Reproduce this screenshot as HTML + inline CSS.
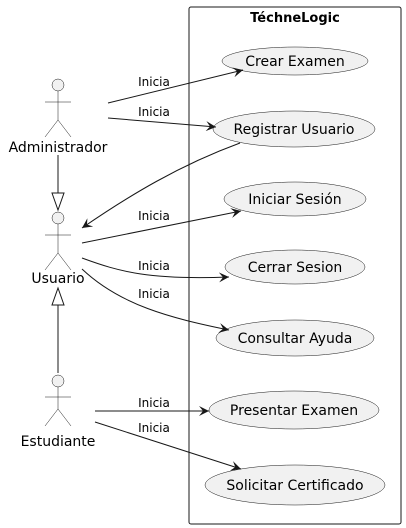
<!DOCTYPE html>
<html><head><style>body{margin:0;background:#fff}svg{display:block}text{font-family:"DejaVu Sans","Liberation Sans",sans-serif}</style></head><body>
<svg width="406" height="528" viewBox="0 0 406 528" xmlns="http://www.w3.org/2000/svg">
<defs><marker id="a" markerWidth="12" markerHeight="10" refX="10" refY="5" orient="auto" markerUnits="userSpaceOnUse"><path d="M0,0 L10,5 L0,10 L4,5 Z" fill="#181818"/></marker></defs>
<rect x="189" y="7" width="212" height="517" rx="2" fill="#fff" stroke="#181818" stroke-width="1"/>
<text x="295" y="22" font-size="13" font-weight="bold" text-anchor="middle">TéchneLogic</text>
<g fill="#f1f1f1" stroke="#181818" stroke-width="0.5">
<ellipse cx="295" cy="61" rx="73" ry="14"/>
<ellipse cx="294" cy="129" rx="81" ry="18"/>
<ellipse cx="295" cy="199" rx="71" ry="17"/>
<ellipse cx="295" cy="267" rx="70" ry="17"/>
<ellipse cx="295" cy="338" rx="79" ry="18"/>
<ellipse cx="294" cy="410" rx="85" ry="19"/>
<ellipse cx="295" cy="485" rx="90" ry="20"/>
</g>
<g font-size="14" text-anchor="middle" fill="#000">
<text x="295" y="66">Crear Examen</text>
<text x="294" y="134">Registrar Usuario</text>
<text x="295" y="204">Iniciar Sesión</text>
<text x="295" y="272">Cerrar Sesion</text>
<text x="295" y="343">Consultar Ayuda</text>
<text x="294" y="415">Presentar Examen</text>
<text x="295" y="490">Solicitar Certificado</text>
</g>
<g fill="#f1f1f1" stroke="#181818" stroke-width="0.5">
<circle cx="58" cy="85" r="6"/><path d="M58,91V120M45,102H71M45,137L58,120L71,137" fill="none"/>
<circle cx="58" cy="218" r="6"/><path d="M58,224V253M45,235H71M45,270L58,253L71,270" fill="none"/>
<circle cx="58" cy="381" r="6"/><path d="M58,387V409M45,397H71M45,426L58,409L71,426" fill="none"/>
</g>
<g font-size="14" text-anchor="middle">
<text x="58" y="152">Administrador</text>
<text x="58" y="283">Usuario</text>
<text x="58" y="446">Estudiante</text>
</g>
<g stroke="#181818" fill="none" stroke-width="1">
<path d="M58,155V193"/><path d="M52,193H64L58,210Z" fill="#fff"/>
<path d="M58,305V373"/><path d="M52,305H64L58,288Z" fill="#fff"/>
<path d="M108,103L243,70" marker-end="url(#a)"/>
<path d="M108,118L216,127" marker-end="url(#a)"/>
<path d="M240,143C180,165 130,195 82,228" marker-end="url(#a)"/>
<path d="M82,243L241,211" marker-end="url(#a)"/>
<path d="M82,258C120,272 150,280 229,277" marker-end="url(#a)"/>
<path d="M82,269C120,305 170,318 229,330" marker-end="url(#a)"/>
<path d="M95,411H209" marker-end="url(#a)"/>
<path d="M95,422L241,469" marker-end="url(#a)"/>
</g>
<g font-size="12" text-anchor="middle">
<text x="154" y="86">Inicia</text>
<text x="154" y="116">Inicia</text>
<text x="154" y="220">Inicia</text>
<text x="154" y="270">Inicia</text>
<text x="154" y="298">Inicia</text>
<text x="154" y="407">Inicia</text>
<text x="154" y="432">Inicia</text>
</g>
</svg>
</body></html>
